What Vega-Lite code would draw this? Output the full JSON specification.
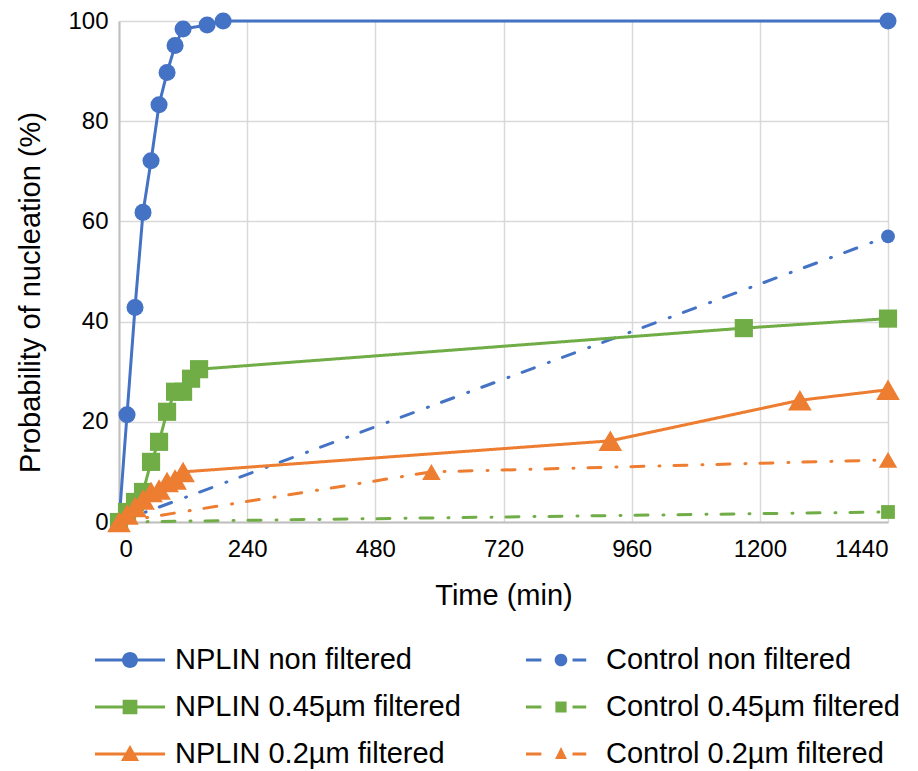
{
  "$schema": "https://vega.github.io/schema/vega-lite/v6.json",
  "autosize": "none",
  "width": 769,
  "height": 501,
  "padding": {"left": 119, "top": 21, "right": 30, "bottom": 249},
  "background": "white",
  "config": {
    "view": {"stroke": null},
    "font": "Liberation Sans",
    "axis": {
      "labelFont": "Liberation Sans", "labelFontSize": 24, "labelColor": "#000000",
      "titleFont": "Liberation Sans", "titleFontSize": 29, "titleFontWeight": "normal", "titleColor": "#000000",
      "gridColor": "#d9d9d9", "gridWidth": 1.5, "domainColor": "#bfbfbf", "domainWidth": 2,
      "ticks": false
    },
    "legend": {
      "orient": "none", "legendX": -21, "legendY": 607, "columns": 2, "direction": "horizontal",
      "symbolStrokeWidth": 0, "symbolOpacity": 1,
      "labelFont": "Liberation Sans", "labelFontSize": 29, "labelColor": "#000000",
      "labelOffset": 13, "labelLimit": 0, "columnPadding": 64, "rowPadding": 0
    }
  },
  "data": {"values": [
    {"series": "NPLIN non filtered", "t": 0, "p": 0},
    {"series": "NPLIN non filtered", "t": 15, "p": 21.4},
    {"series": "NPLIN non filtered", "t": 30, "p": 42.8},
    {"series": "NPLIN non filtered", "t": 45, "p": 61.8},
    {"series": "NPLIN non filtered", "t": 60, "p": 72.1},
    {"series": "NPLIN non filtered", "t": 75, "p": 83.3},
    {"series": "NPLIN non filtered", "t": 90, "p": 89.7},
    {"series": "NPLIN non filtered", "t": 105, "p": 95.1},
    {"series": "NPLIN non filtered", "t": 120, "p": 98.4},
    {"series": "NPLIN non filtered", "t": 165, "p": 99.2},
    {"series": "NPLIN non filtered", "t": 195, "p": 100},
    {"series": "NPLIN non filtered", "t": 1440, "p": 100},
    {"series": "Control non filtered", "t": 0, "p": 0},
    {"series": "Control non filtered", "t": 1440, "p": 57},
    {"series": "NPLIN 0.45µm filtered", "t": 0, "p": 0},
    {"series": "NPLIN 0.45µm filtered", "t": 15, "p": 2},
    {"series": "NPLIN 0.45µm filtered", "t": 30, "p": 4},
    {"series": "NPLIN 0.45µm filtered", "t": 45, "p": 6},
    {"series": "NPLIN 0.45µm filtered", "t": 60, "p": 12},
    {"series": "NPLIN 0.45µm filtered", "t": 75, "p": 16},
    {"series": "NPLIN 0.45µm filtered", "t": 90, "p": 22},
    {"series": "NPLIN 0.45µm filtered", "t": 105, "p": 26},
    {"series": "NPLIN 0.45µm filtered", "t": 120, "p": 26},
    {"series": "NPLIN 0.45µm filtered", "t": 135, "p": 28.6},
    {"series": "NPLIN 0.45µm filtered", "t": 150, "p": 30.5},
    {"series": "NPLIN 0.45µm filtered", "t": 1170, "p": 38.7},
    {"series": "NPLIN 0.45µm filtered", "t": 1440, "p": 40.6},
    {"series": "Control 0.45µm filtered", "t": 0, "p": 0},
    {"series": "Control 0.45µm filtered", "t": 1440, "p": 2},
    {"series": "NPLIN 0.2µm filtered", "t": 0, "p": 0},
    {"series": "NPLIN 0.2µm filtered", "t": 15, "p": 1.5},
    {"series": "NPLIN 0.2µm filtered", "t": 30, "p": 3},
    {"series": "NPLIN 0.2µm filtered", "t": 45, "p": 4.5},
    {"series": "NPLIN 0.2µm filtered", "t": 60, "p": 6},
    {"series": "NPLIN 0.2µm filtered", "t": 75, "p": 6.5},
    {"series": "NPLIN 0.2µm filtered", "t": 90, "p": 8},
    {"series": "NPLIN 0.2µm filtered", "t": 105, "p": 8.5},
    {"series": "NPLIN 0.2µm filtered", "t": 120, "p": 10},
    {"series": "NPLIN 0.2µm filtered", "t": 920, "p": 16.2},
    {"series": "NPLIN 0.2µm filtered", "t": 1275, "p": 24.3},
    {"series": "NPLIN 0.2µm filtered", "t": 1440, "p": 26.4},
    {"series": "Control 0.2µm filtered", "t": 0, "p": 0},
    {"series": "Control 0.2µm filtered", "t": 585, "p": 10},
    {"series": "Control 0.2µm filtered", "t": 1440, "p": 12.4}
  ]},
  "encoding": {
    "x": {"field": "t", "type": "quantitative", "title": "Time (min)",
      "scale": {"domain": [0, 1440], "nice": false},
      "axis": {"values": [0, 240, 480, 720, 960, 1200, 1440], "format": "d", "labelPadding": 15, "titlePadding": 20}},
    "y": {"field": "p", "type": "quantitative", "title": "Probability of nucleation (%)",
      "scale": {"domain": [0, 100], "nice": false},
      "axis": {"values": [0, 20, 40, 60, 80, 100], "labelPadding": 11, "titleX": -89, "titleY": 271, "titleAlign": "center", "titleBaseline": "middle", "titleAngle": -90}},
    "color": {"field": "series", "type": "nominal",
      "scale": {
        "domain": ["NPLIN non filtered", "Control non filtered", "NPLIN 0.45µm filtered", "Control 0.45µm filtered", "NPLIN 0.2µm filtered", "Control 0.2µm filtered"],
        "range": ["#4472C4", "#4472C4", "#70AD47", "#70AD47", "#ED7D31", "#ED7D31"]},
      "legend": null}
  },
  "layer": [
    {
      "mark": {"type": "point", "filled": true, "opacity": 0},
      "encoding": {
        "color": {"field": "series", "type": "nominal", "title": null,
          "legend": {"title": null, "direction": "horizontal", "columns": 2,
            "encode": {"symbols": {"update": {"opacity": {"value": 1}, "strokeWidth": {"value": 0}}}}}},
        "size": {"field": "series", "type": "nominal", "title": null,
          "scale": {
            "domain": ["NPLIN non filtered", "Control non filtered", "NPLIN 0.45µm filtered", "Control 0.45µm filtered", "NPLIN 0.2µm filtered", "Control 0.2µm filtered"],
            "range": [4096, 4096, 4096, 4096, 4096, 4096]},
          "legend": {"title": null, "direction": "horizontal", "columns": 2}},
        "shape": {"field": "series", "type": "nominal", "title": null,
          "scale": {
            "domain": ["NPLIN non filtered", "Control non filtered", "NPLIN 0.45µm filtered", "Control 0.45µm filtered", "NPLIN 0.2µm filtered", "Control 0.2µm filtered"],
            "range": [
              "M-1.094,-0.049H1.094V0.049H-1.094Z M-0.25,0A0.25,0.25,0,1,1,0.25,0A0.25,0.25,0,1,1,-0.25,0Z",
              "M-1.094,-0.049H-0.613V0.049H-1.094Z M0.361,-0.049H0.788V0.049H0.361Z M-0.197,0A0.197,0.197,0,1,1,0.197,0A0.197,0.197,0,1,1,-0.197,0Z",
              "M-1.094,-0.049H1.094V0.049H-1.094Z M-0.23,-0.23H0.23V0.23H-0.23Z",
              "M-1.094,-0.049H-0.613V0.049H-1.094Z M0.361,-0.049H0.788V0.049H0.361Z M-0.175,-0.175H0.175V0.175H-0.175Z",
              "M-1.094,-0.049H1.094V0.049H-1.094Z M0,-0.284L0.284,0.219L-0.284,0.219Z",
              "M-1.094,-0.049H-0.613V0.049H-1.094Z M0.361,-0.049H0.788V0.049H0.361Z M0,-0.219L0.186,0.153L-0.186,0.153Z"
            ]},
          "legend": {"title": null, "direction": "horizontal", "columns": 2}}
      }
    },
    {
      "mark": {"type": "line", "strokeWidth": 3, "strokeCap": "round"},
      "encoding": {
        "detail": {"field": "series"},
        "strokeDash": {"field": "series", "type": "nominal", "legend": null,
          "scale": {
            "domain": ["NPLIN non filtered", "Control non filtered", "NPLIN 0.45µm filtered", "Control 0.45µm filtered", "NPLIN 0.2µm filtered", "Control 0.2µm filtered"],
            "range": [[1, 0], [13, 15, 1, 14], [1, 0], [13, 15, 1, 14], [1, 0], [13, 15, 1, 14]]}}
      }
    },
    {
      "transform": [{"filter": {"field": "series", "equal": "NPLIN non filtered"}}],
      "mark": {"type": "point", "shape": "circle", "filled": true, "opacity": 1, "size": 290}
    },
    {
      "transform": [{"filter": {"field": "series", "equal": "Control non filtered"}}],
      "mark": {"type": "point", "shape": "circle", "filled": true, "opacity": 1, "size": 190}
    },
    {
      "transform": [{"filter": {"field": "series", "equal": "NPLIN 0.45µm filtered"}}],
      "mark": {"type": "point", "shape": "square", "filled": true, "opacity": 1, "size": 330}
    },
    {
      "transform": [{"filter": {"field": "series", "equal": "Control 0.45µm filtered"}}],
      "mark": {"type": "point", "shape": "square", "filled": true, "opacity": 1, "size": 190}
    },
    {
      "transform": [{"filter": {"field": "series", "equal": "NPLIN 0.2µm filtered"}}],
      "mark": {"type": "point", "shape": "triangle-up", "filled": true, "opacity": 1, "size": 560}
    },
    {
      "transform": [{"filter": {"field": "series", "equal": "Control 0.2µm filtered"}}],
      "mark": {"type": "point", "shape": "triangle-up", "filled": true, "opacity": 1, "size": 340}
    }
  ]
}
